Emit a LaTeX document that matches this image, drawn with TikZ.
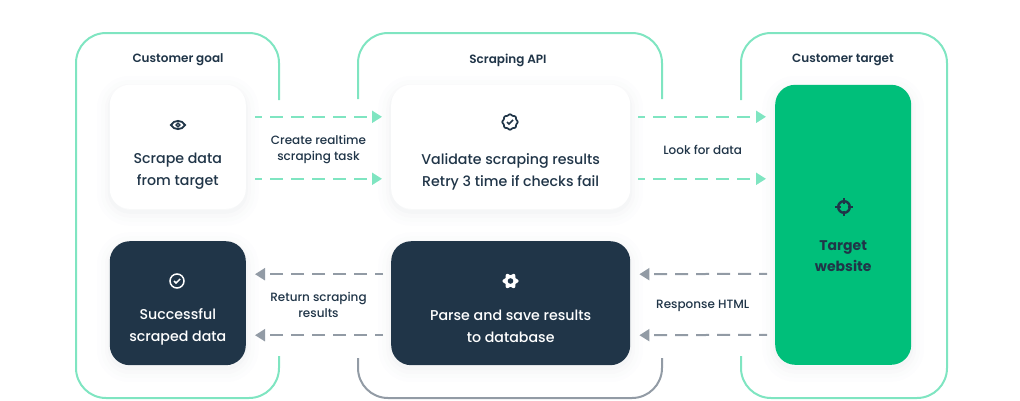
\documentclass[tikz,border=0pt]{standalone}
\usepackage{fontspec}
\setmainfont{Poppins Medium}[BoldFont={Poppins SemiBold}]
\newfontfamily\heavyfont{Poppins Bold}
\usetikzlibrary{arrows.meta,calc,positioning}
\definecolor{mint}{HTML}{7FE5C1}
\definecolor{slate}{HTML}{929BA5}
\definecolor{navy}{HTML}{203548}
\definecolor{leaf}{HTML}{00BF7A}
\tikzset{
	softshadow/.style={
		preaction={draw=navy,draw opacity=.006,line width=26pt,transform canvas={yshift=-4pt}},
		preaction={draw=navy,draw opacity=.008,line width=18pt,transform canvas={yshift=-4pt}},
		preaction={draw=navy,draw opacity=.012,line width=10pt,transform canvas={yshift=-4pt}},
		preaction={draw=navy,draw opacity=.016,line width=4pt,transform canvas={yshift=-3pt}}},
	cardbox/.style={softshadow,rounded corners=20pt,inner sep=0pt,minimum height=124pt,text=navy,font=\fontsize{14}{22}\selectfont,align=center},
	whitecard/.style={cardbox,fill=white},
	navycard/.style={cardbox,fill=navy},
	cardtext/.style={font=\fontsize{14.2}{22}\selectfont,align=center,inner sep=0pt},
	grouptitle/.style={font=\fontsize{12}{14}\selectfont\bfseries,text=navy,inner sep=0pt},
	flowlabel/.style={font=\fontsize{12}{16}\selectfont,text=navy,align=center,inner sep=0pt},
	grouppath/.style={line width=2pt,rounded corners=30pt},
	mintflow/.style={draw=mint,line width=2pt,dash pattern=on 13pt off 8pt,dash phase=6pt,-{Triangle[length=10pt,width=12pt]}},
	slateflow/.style={draw=slate,line width=2pt,dash pattern=on 13pt off 8pt,dash phase=5pt,-{Triangle[length=10pt,width=12pt]}},
	eyeicon/.pic={
		\draw[navy,line width=1.8pt] (-7,0) .. controls (-4,-5.5) and (4,-5.5) .. (7,0) .. controls (4,5.5) and (-4,5.5) .. cycle;
		\draw[navy,line width=1.4pt] (0,0) circle (1.8);},
	badgeicon/.pic={
		\draw[navy,line width=1.7pt] plot[domain=0:352.5,samples=48,smooth] ({(7.2+.5*cos(8*\x))*cos(\x)},{(7.2+.5*cos(8*\x))*sin(\x)}) -- cycle;
		\draw[navy,line width=1.5pt] (-3,0) -- (-1,2) -- (3,-2);},
	checkicon/.pic={
		\draw[white,line width=1.5pt] (0,0) circle (7);
		\draw[white,line width=1.5pt] (-3,0) -- (-1,2) -- (3.2,-2);},
	gearicon/.pic={
		\fill[white] plot[domain=0:354,samples=60,smooth] ({(6.9+1.1*cos(6*\x))*cos(\x)},{(6.9+1.1*cos(6*\x))*sin(\x)}) -- cycle;
		\fill[navy] (0,0) circle (2.8);},
	crossicon/.pic={
		\draw[navy,line width=2.4pt] (0,0) circle (5.8);
		\foreach \a in {0,90,180,270}
			\draw[navy,line width=2.2pt] (\a:3.5) -- (\a:8.6);}
}
\begin{document}
\begin{tikzpicture}[x=1pt,y=-1pt]
	\useasboundingbox (0,0) rectangle (1020,400);

	\draw[grouppath,mint] (279,100) -- (279,33) -- (76,33) -- (76,398) -- (279,398) -- (279,356);
	\draw[grouppath,mint] (358,99) -- (358,33) -- (662,33) -- (662,99);
	\draw[grouppath,slate] (358,358) -- (358,398) -- (662,398) -- (662,358);
	\draw[grouppath,mint] (741,100) -- (741,33) -- (947,33) -- (947,398) -- (741,398) -- (741,356);

	\node[whitecard,minimum width=136pt] (scrape) at (177.8,146.8) {};
	\node[whitecard,minimum width=239pt,right=145pt of scrape] (validate) {};
	\node[navycard,minimum width=136pt,below=32pt of scrape] (success) {};
	\node[navycard,minimum width=239pt,below=32pt of validate] (parse) {};
	\node[cardbox,fill=leaf,minimum width=136pt,minimum height=280pt,right=144.6pt of validate.north east,anchor=north west] (website) {};

	\node[grouptitle] (goal) at (178,60) {Customer goal};
	\node[grouptitle] (api) at (508,60) {Scraping API};
	\node[grouptitle] (customer) at (843,60) {Customer target};

	\node[cardtext,text=navy] (scrapetext) at ([yshift=-24.6pt]scrape.center) {Scrape data\\from target};
	\node[cardtext,text=navy] (validatetext) at ([yshift=-24.6pt]validate.center) {Validate scraping results\\Retry 3 time if checks fail};
	\node[cardtext,text=white] (successtext) at ([yshift=-23.2pt]success.center) {Successful\\scraped data};
	\node[cardtext,text=white] (parsetext) at ([yshift=-23.4pt]parse.center) {Parse and save results\\to database};
	\node[cardtext,text=navy,font=\fontsize{14}{21}\heavyfont] (websitetext) at ([yshift=-31pt]website.center) {Target\\website};

	\pic at (178,125) {eyeicon};
	\pic at (510,122) {badgeicon};
	\pic at (177,281) {checkicon};
	\pic at (510.5,281) {gearicon};
	\pic at (844,207) {crossicon};

	\path
		([shift={(9,-30)}]scrape.east) edge[mintflow] ([shift={(-9,-30)}]validate.west)
		([shift={(9,32)}]scrape.east) edge[mintflow] ([shift={(-9,32)}]validate.west)
		([shift={(8,-30)}]validate.east) edge[mintflow] ([shift={(-9,-108)}]website.west)
		([shift={(8,32)}]validate.east) edge[mintflow] ([shift={(-9,-46)}]website.west);
	\path
		([shift={(-8,-29)}]parse.west) edge[slateflow] ([shift={(9,-29)}]success.east)
		([shift={(-8,32)}]parse.west) edge[slateflow] ([shift={(9,32)}]success.east)
		([shift={(-8,49)}]website.west) edge[slateflow] ([shift={(9,-29)}]parse.east)
		([shift={(-8,110)}]website.west) edge[slateflow] ([shift={(9,32)}]parse.east);

	\node[flowlabel] (create) at ($(scrape.east)!.5!(validate.west)+(0,3.2)$) {Create realtime\\scraping task};
	\node[flowlabel] (look) at ($(validate.east)!.5!(validate.east -| website.west)+(0,3)$) {Look for data};
	\node[flowlabel] (return) at ($(success.east)!.5!(parse.west)+(0,2)$) {Return scraping\\results};
	\node[flowlabel] (response) at ($(parse.east)!.5!(parse.east -| website.west)+(0,3)$) {Response HTML};
\end{tikzpicture}
\end{document}
